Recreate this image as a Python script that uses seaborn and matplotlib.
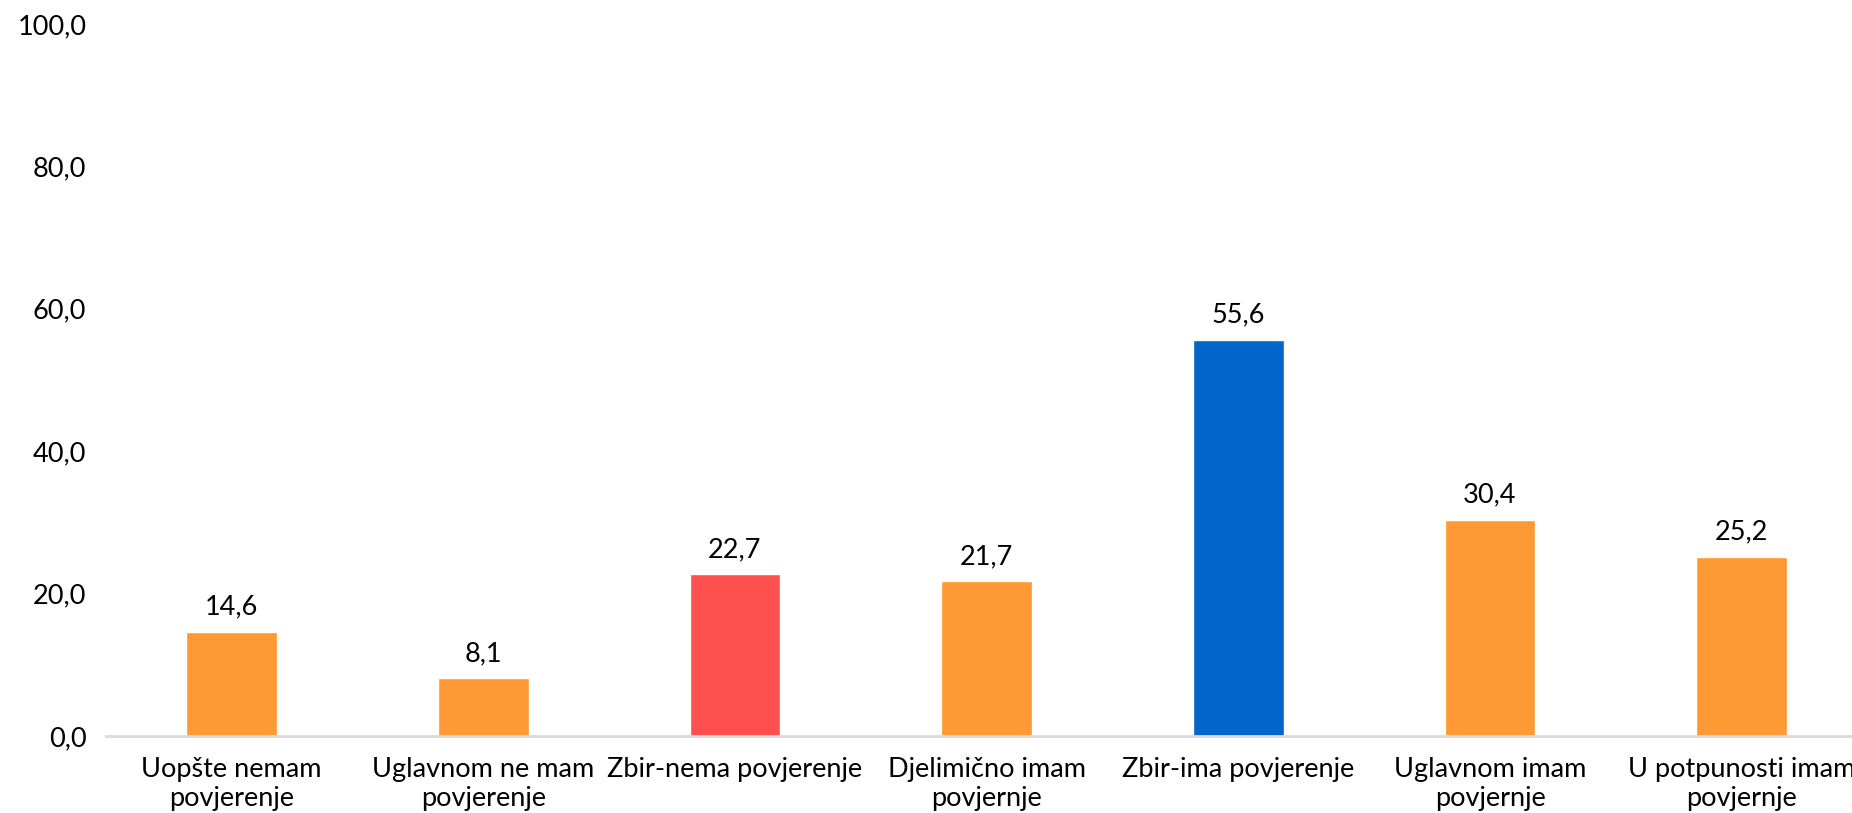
import matplotlib
matplotlib.use('Agg')
import matplotlib.pyplot as plt
import seaborn as sns
import pandas as pd

# Chart data
categories = ['Uopšte nemam\npovjerenje', 'Uglavnom ne mam\npovjerenje', 'Zbir-nema povjerenje',
              'Djelimično imam\npovjernje', 'Zbir-ima povjerenje', 'Uglavnom imam\npovjernje',
              'U potpunosti imam\npovjernje']
values = [14.6, 8.1, 22.7, 21.7, 55.6, 30.4, 25.2]
bar_colors = ['#FF9933', '#FF9933', '#FF5050', '#FF9933', '#0066CC', '#FF9933', '#FF9933']
y_ticks = [0, 20, 40, 60, 80, 100]

df = pd.DataFrame({'category': categories, 'value': values})

sns.set_style('white')
plt.rcParams['font.family'] = ['Lato', 'DejaVu Sans']

fig = plt.figure(figsize=(18.52, 8.13), dpi=100)
ax = fig.add_axes([0.0571, 0.0947, 0.9513, 0.8758])

sns.barplot(data=df, x='category', y='value', hue='category', palette=bar_colors,
            legend=False, width=0.36, saturation=1, ax=ax)

# Data labels with decimal comma
for container, v in zip(ax.containers, values):
    ax.bar_label(container, labels=[f'{v:.1f}'.replace('.', ',')], padding=9, fontsize=19.5, color='black')

ax.set_ylim(0, 100)
ax.set_yticks(y_ticks)
ax.set_yticklabels([f'{t:.1f}'.replace('.', ',') for t in y_ticks])
ax.set_xlim(-0.5, len(categories) - 0.5)
ax.set_xlabel('')
ax.set_ylabel('')
ax.tick_params(axis='y', length=0, pad=14, labelsize=19.5, labelcolor='black')
ax.tick_params(axis='x', length=0, pad=15, labelsize=19.5, labelcolor='black')
for lbl in ax.get_xticklabels():
    lbl.set_linespacing(1.2)

for side in ['top', 'right', 'left']:
    ax.spines[side].set_visible(False)
ax.spines['bottom'].set_color('#D9D9D9')
ax.spines['bottom'].set_linewidth(2)

fig.savefig('out.png', dpi=100)
plt.close()
